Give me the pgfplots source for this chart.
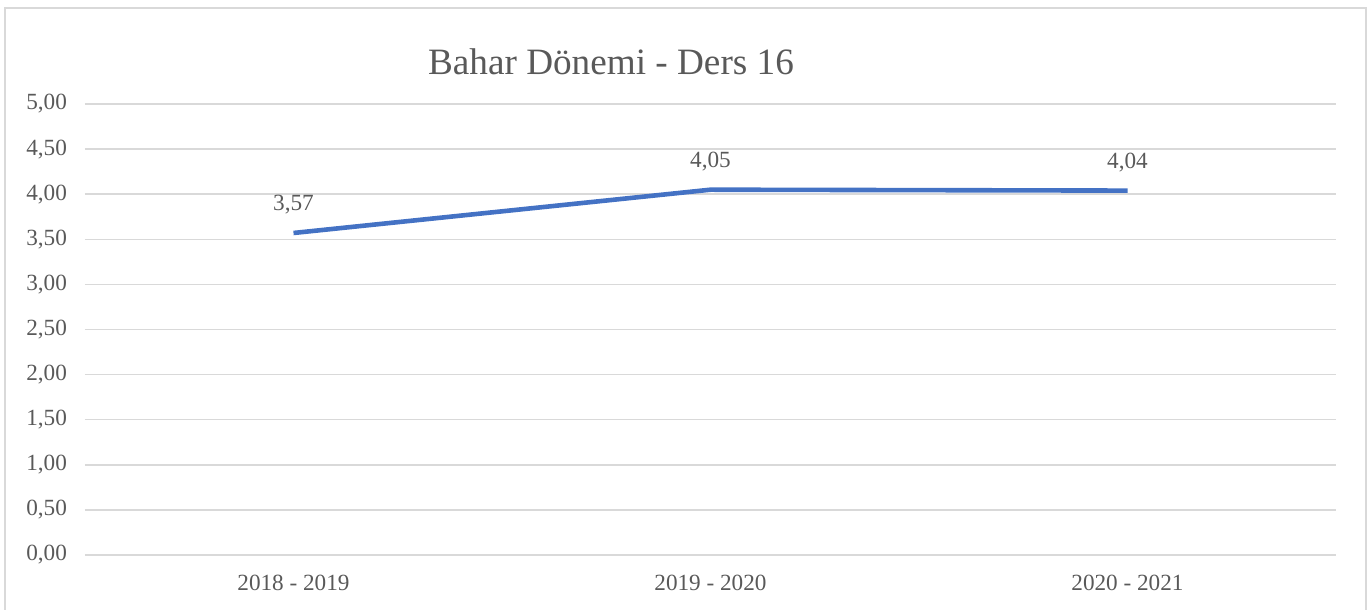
\documentclass[border=0pt]{standalone}
\usepackage{pgfplots}
\pgfplotsset{compat=1.18}
\usepackage{fontspec}
\setmainfont{Liberation Serif}
\definecolor{txt}{HTML}{595959}
\definecolor{grd}{HTML}{D9D9D9}
\definecolor{ln}{HTML}{4472C4}
\begin{document}
\begin{tikzpicture}
\useasboundingbox (0,0) rectangle (685.5pt,305pt);
\draw[grd,line width=0.8pt] (2.5pt,-10pt) -- (2.5pt,301pt) -- (683pt,301pt) -- (683pt,-10pt);
\node[txt,font=\fontsize{18.6}{20}\selectfont] at (305.5pt,274pt) {Bahar Dönemi - Ders 16};
\begin{axis}[
  at={(42.5pt,27.5pt)}, anchor=south west,
  scale only axis, width=625.5pt, height=225.5pt,
  xmin=-0.5, xmax=2.5, ymin=0, ymax=5,
  axis line style={draw=none},
  xtick={0,1,2}, xticklabels={2018 - 2019, 2019 - 2020, 2020 - 2021},
  ytick={0,0.5,...,5},
  tick style={draw=none},
  ymajorgrids, grid style={grd,line width=0.8pt},
  major tick length=0pt,
  /pgf/number format/assume math mode=true,
  /pgf/number format/fixed,
  /pgf/number format/fixed zerofill,
  /pgf/number format/precision=2,
  /pgf/number format/use comma,
  ticklabel style={txt,font=\fontsize{11.6}{13}\selectfont},
  yticklabel style={xshift=-5.5pt},
  xticklabel style={yshift=-6.5pt},
  clip=false,
]
\addplot[ln, line width=2.3pt, nodes near coords={\pgfmathprintnumber[fixed,fixed zerofill,precision=2,use comma,assume math mode=true]{\pgfplotspointmeta}},
  every node near coord/.style={txt,font=\fontsize{11.6}{13}\selectfont,yshift=5pt}] coordinates {(0,3.57) (1,4.05) (2,4.04)};
\end{axis}
\end{tikzpicture}
\end{document}
